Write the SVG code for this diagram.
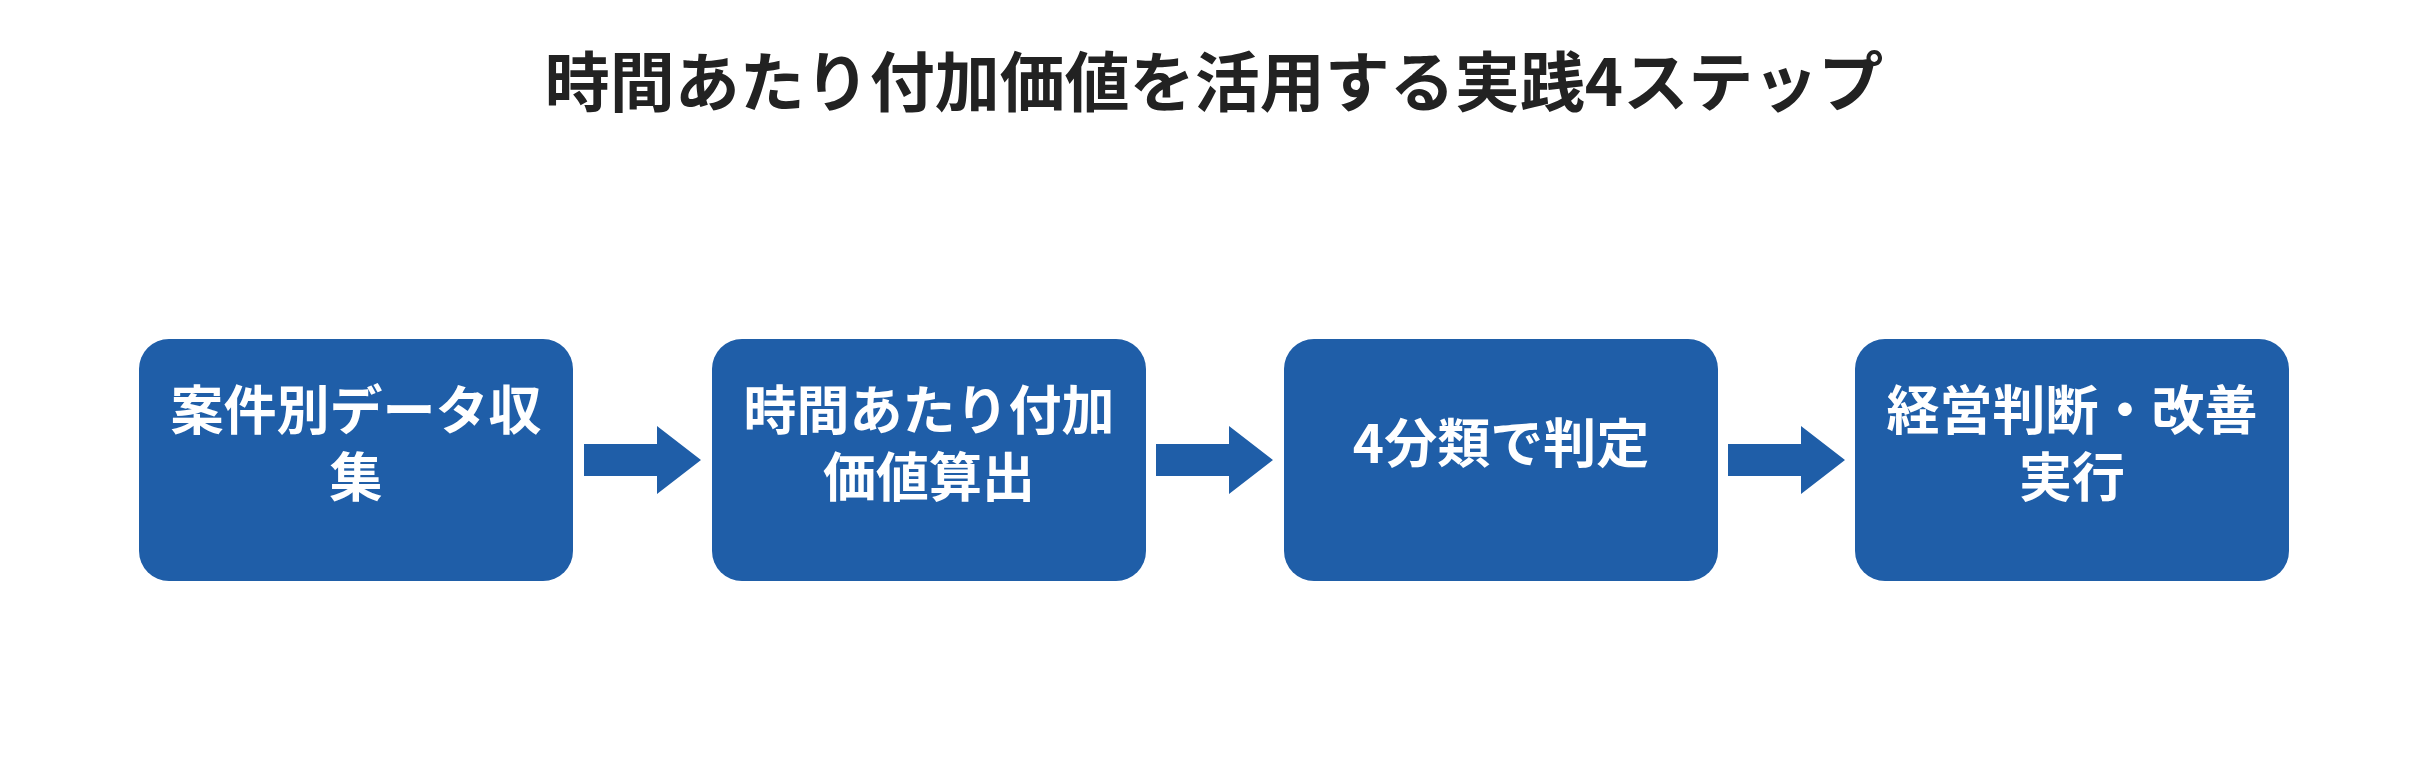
<svg xmlns="http://www.w3.org/2000/svg" width="2428" height="760" viewBox="0 0 2428 760">
<style>
.box{fill:#1f5ea8}
.t{font-family:"Noto Sans CJK JP","Noto Sans",sans-serif;font-weight:bold;fill:#fff;font-size:53px;text-anchor:middle}
.title{font-family:"Noto Sans CJK JP","Noto Sans",sans-serif;font-weight:bold;fill:#222;font-size:65px;text-anchor:middle}
.arr{fill:#1f5ea8}
</style>
<rect width="2428" height="760" fill="#fff"/>
<text class="title" x="1214" y="106">時間あたり付加価値を活用する実践4ステップ</text>
<g id="n1"><rect class="box" x="139" y="339" width="434" height="242" rx="30"/>
<text class="t" x="356" y="430">案件別データ収</text><text class="t" x="356" y="497">集</text></g>
<g id="n2"><rect class="box" x="712" y="339" width="434" height="242" rx="30"/>
<text class="t" x="929" y="430">時間あたり付加</text><text class="t" x="929" y="497">価値算出</text></g>
<g id="n3"><rect class="box" x="1284" y="339" width="434" height="242" rx="30"/>
<text class="t" x="1501" y="463">4分類で判定</text></g>
<g id="n4"><rect class="box" x="1855" y="339" width="434" height="242" rx="30"/>
<text class="t" x="2072" y="430">経営判断・改善</text><text class="t" x="2072" y="497">実行</text></g>
<g id="connectors">
<polygon class="arr" points="584,444 657,444 657,426 701,460 657,494 657,476 584,476"/>
<polygon class="arr" points="1156,444 1229,444 1229,426 1273,460 1229,494 1229,476 1156,476"/>
<polygon class="arr" points="1728,444 1801,444 1801,426 1845,460 1801,494 1801,476 1728,476"/>
</g>
</svg>
